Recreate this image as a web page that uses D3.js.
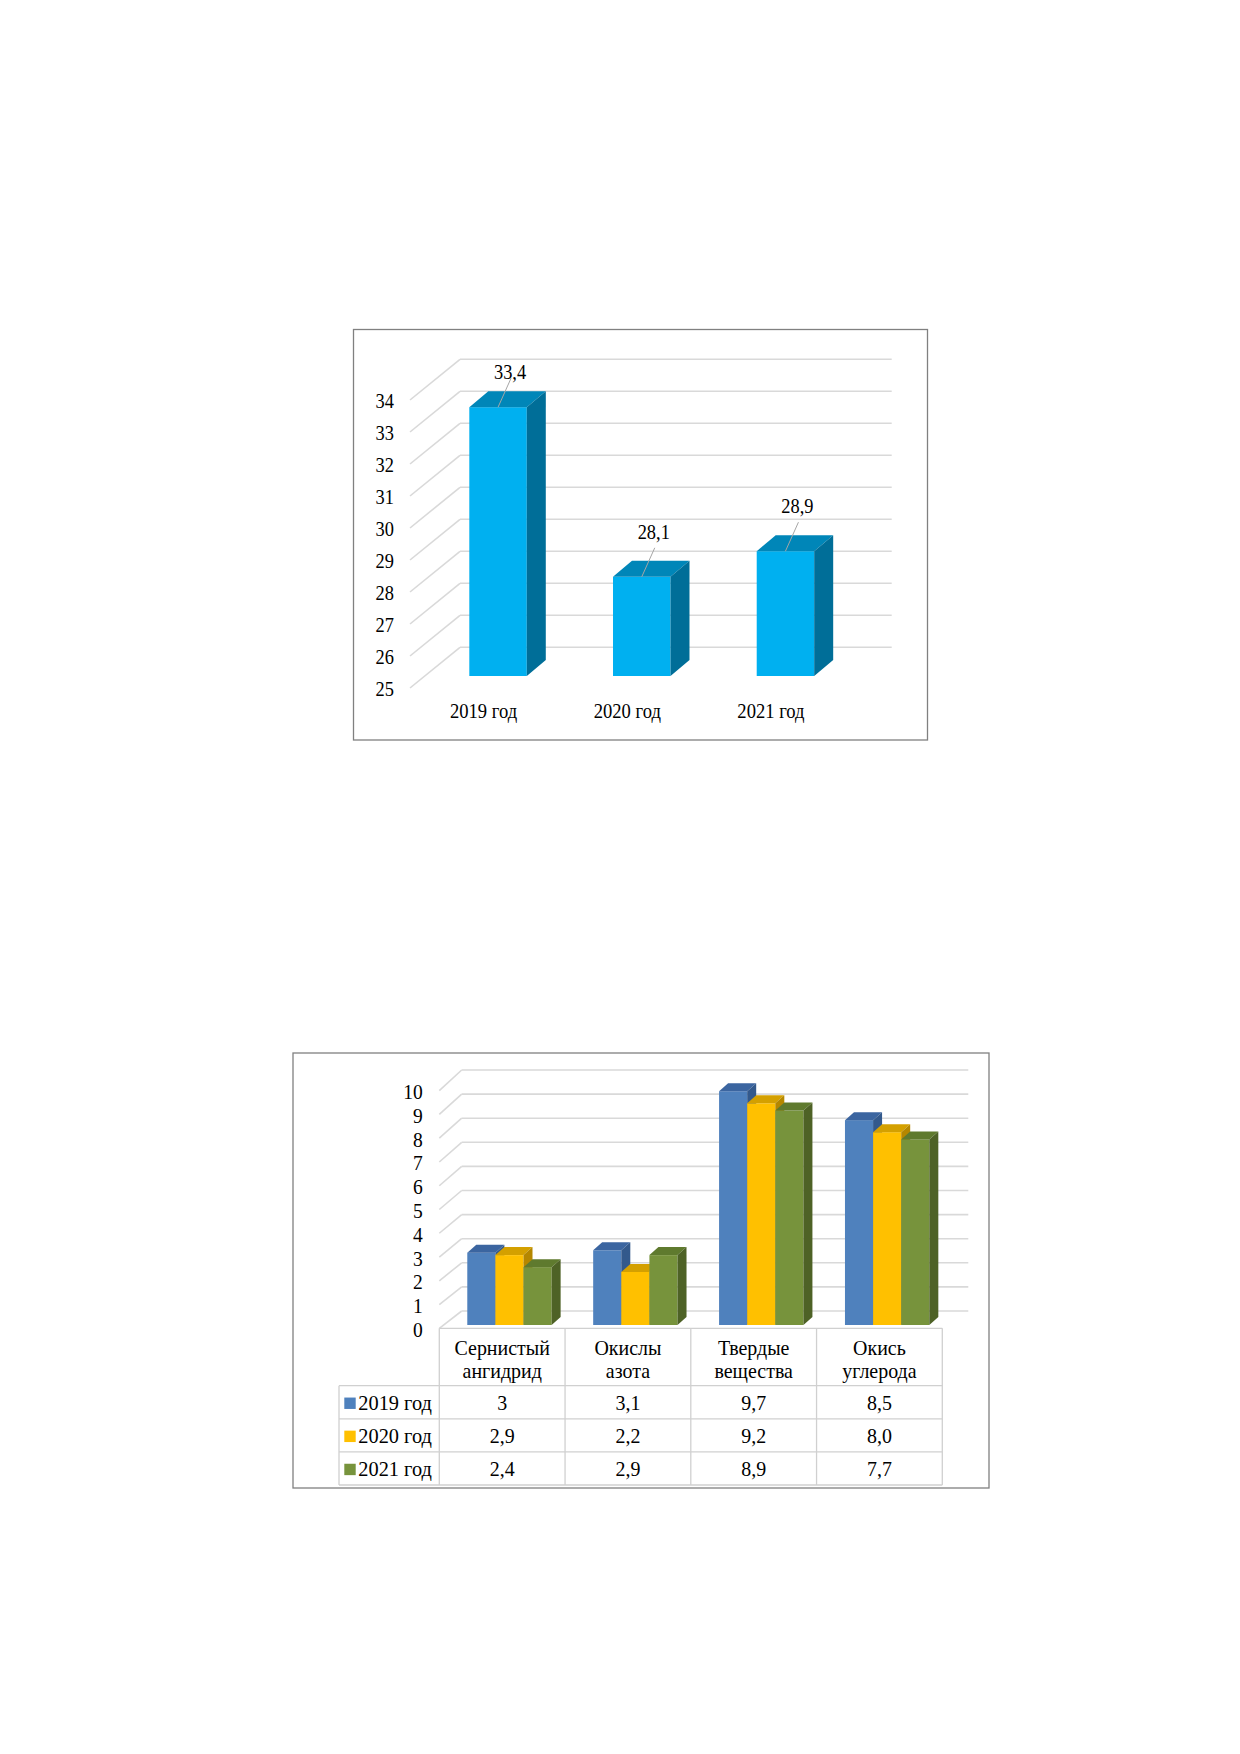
<!DOCTYPE html>
<html><head><meta charset="utf-8">
<script src="https://cdn.jsdelivr.net/npm/d3@7/dist/d3.min.js"></script>
<style>
body{margin:0;background:#fff}
svg{display:block}
text{font-family:"Liberation Serif","Times New Roman",serif;fill:#000}
</style>
</head><body>
<svg id="c" width="1240" height="1754"></svg>
<script>
// ---------- data: chart 1 ----------
const years = ["2019 год", "2020 год", "2021 год"];
const totals = [33.4, 28.1, 28.9];
const totalLabels = ["33,4", "28,1", "28,9"];
const ticks1 = [25, 26, 27, 28, 29, 30, 31, 32, 33, 34];

// ---------- data: chart 2 ----------
const pollutants = ["Сернистый ангидрид", "Окислы азота", "Твердые вещества", "Окись углерода"];
const pollutantLines = [["Сернистый", "ангидрид"], ["Окислы", "азота"], ["Твердые", "вещества"], ["Окись", "углерода"]];
const series = ["2019 год", "2020 год", "2021 год"];
const values2019 = [3, 3.1, 9.7, 8.5];
const values2020 = [2.9, 2.2, 9.2, 8.0];
const values2021 = [2.4, 2.9, 8.9, 7.7];
const text2019 = ["3", "3,1", "9,7", "8,5"];
const text2020 = ["2,9", "2,2", "9,2", "8,0"];
const text2021 = ["2,4", "2,9", "8,9", "7,7"];
const ticks2 = [0, 1, 2, 3, 4, 5, 6, 7, 8, 9, 10];

const seriesValues = [values2019, values2020, values2021];
const seriesTexts = [text2019, text2020, text2021];

// ---------- styles ----------
const GRID = "#D9D9D9";
const c1 = {front: "#00B0F0", top: "#0086B8", side: "#006E98"};
const c2front = ["#4F81BD", "#FFC000", "#77933C"];
const c2top = ["#3B65A0", "#D4A000", "#5F7A2E"];
const c2side = ["#33598C", "#B58700", "#4E6226"];

const svg = d3.select("#c");

function txt(sel, x, y, s, anchor, size, sx) {
  return sel.append("text")
    .attr("transform", `translate(${x},${y}) scale(${sx},1)`)
    .attr("text-anchor", anchor)
    .attr("font-size", size)
    .text(s);
}
function box(sel, x, yT, w, yBot, dx, dy, cols) {
  sel.append("rect").attr("x", x).attr("y", yT).attr("width", w).attr("height", Math.max(0, yBot - yT)).attr("fill", cols.front);
  sel.append("polygon").attr("points", [[x, yT], [x + dx, yT - dy], [x + w + dx, yT - dy], [x + w, yT]].join(" ")).attr("fill", cols.top);
  sel.append("polygon").attr("points", [[x + w, yT], [x + w + dx, yT - dy], [x + w + dx, yBot - dy], [x + w, yBot]].join(" ")).attr("fill", cols.side);
}

// ================= CHART 1 =================
svg.append("rect").attr("x", 353.5).attr("y", 329.5).attr("width", 574).attr("height", 410.5)
  .attr("fill", "#fff").attr("stroke", "#808080").attr("stroke-width", 1.3);
const g1 = svg.append("g");
const yF1 = d3.scaleLinear().domain([25, 34]).range([688, 400]);     // front (axis) plane
const yB1 = d3.scaleLinear().domain([25, 34]).range([647.3, 359.3]); // back wall
const yBar1 = d3.scaleLinear().domain([25, 34]).range([676, 388]);   // bar front plane
const x1 = d3.scaleBand().domain(years).range([426.2, 857.3]).paddingInner(0.6).paddingOuter(0.3);

ticks1.forEach(v => {
  g1.append("line").attr("x1", 460).attr("x2", 891.7).attr("y1", yB1(v)).attr("y2", yB1(v))
    .attr("stroke", GRID).attr("stroke-width", 1.6);
  g1.append("line").attr("x1", 410).attr("y1", yF1(v)).attr("x2", 460).attr("y2", yB1(v))
    .attr("stroke", GRID).attr("stroke-width", 1.6);
  txt(g1, 394, yF1(v) + 8, String(v), "end", 20, 0.92);
});

const labelLift = [35, 45, 45];
years.forEach((yr, i) => {
  const x = x1(yr), w = x1.bandwidth();
  const yT = yBar1(totals[i]);
  box(g1, x, yT, w, yBar1(25), 19, 16, c1);
  const cx = x + w / 2;
  g1.append("line").attr("x1", cx).attr("y1", yT).attr("x2", cx + 13).attr("y2", yT - 29)
    .attr("stroke", "#A6A6A6").attr("stroke-width", 1);
  txt(g1, cx + 12, yT - labelLift[i] + 7, totalLabels[i], "middle", 20, 0.92);
  txt(g1, cx - 14.5, 717.5, yr, "middle", 20, 0.93);
});

// ================= CHART 2 =================
svg.append("rect").attr("x", 293).attr("y", 1053).attr("width", 696).attr("height", 435)
  .attr("fill", "#fff").attr("stroke", "#808080").attr("stroke-width", 1.3);
const g2 = svg.append("g");
const yF2 = d3.scaleLinear().domain([0, 10]).range([1328.3, 1090.7]);
const yB2 = d3.scaleLinear().domain([0, 10]).range([1311, 1070]);
const yBar2 = d3.scaleLinear().domain([0, 10]).range([1325, 1084]);
const x2 = d3.scaleBand().domain(pollutants).range([442.1, 954.5]).paddingInner(0.33).paddingOuter(0.2);
const xs = d3.scaleBand().domain(series).range([0, x2.bandwidth()]);

ticks2.forEach(v => {
  g2.append("line").attr("x1", 461.7).attr("x2", 968.3).attr("y1", yB2(v)).attr("y2", yB2(v))
    .attr("stroke", GRID).attr("stroke-width", 1.6);
  g2.append("line").attr("x1", 439.3).attr("y1", yF2(v)).attr("x2", 461.7).attr("y2", yB2(v))
    .attr("stroke", GRID).attr("stroke-width", 1.6);
  txt(g2, 422.7, yF2(v) + 8.5, String(v), "end", 21, 0.93);
});

pollutants.forEach((p, j) => {
  series.forEach((s, k) => {
    const x = x2(p) + xs(s), w = xs.bandwidth();
    box(g2, x, yBar2(seriesValues[k][j]), w, yBar2(0), 9, 8,
      {front: c2front[k], top: c2top[k], side: c2side[k]});
  });
});

// data table
const TL = "#D0D0D0";
const tx = d3.scaleBand().domain(pollutants).range([439.3, 942.3]);
const ty = d3.scaleBand().domain(series).range([1385.7, 1485]);
const gt = svg.append("g");
gt.append("line").attr("x1", 439.3).attr("x2", 942.3).attr("y1", 1328.3).attr("y2", 1328.3).attr("stroke", TL).attr("stroke-width", 1.3);
pollutants.concat([null]).forEach((p, j) => {
  const x = p ? tx(p) : 942.3;
  gt.append("line").attr("x1", x).attr("x2", x).attr("y1", 1328.3).attr("y2", 1485).attr("stroke", TL).attr("stroke-width", 1.3);
});
gt.append("line").attr("x1", 339).attr("x2", 339).attr("y1", 1385.7).attr("y2", 1485).attr("stroke", TL).attr("stroke-width", 1.3);
series.concat([null]).forEach(s => {
  const y = s ? ty(s) : 1485;
  gt.append("line").attr("x1", 339).attr("x2", 942.3).attr("y1", y).attr("y2", y).attr("stroke", TL).attr("stroke-width", 1.3);
});
pollutants.forEach((p, j) => {
  const cx = tx(p) + tx.bandwidth() / 2;
  txt(gt, cx, 1355, pollutantLines[j][0], "middle", 21, 0.95);
  txt(gt, cx, 1378, pollutantLines[j][1], "middle", 21, 0.95);
});
series.forEach((s, k) => {
  const cy = ty(s) + ty.bandwidth() / 2 + 1;
  gt.append("rect").attr("x", 344.3).attr("y", cy - 5.7).attr("width", 11.4).attr("height", 11.4).attr("fill", c2front[k]);
  txt(gt, 358.3, cy + 7, s, "start", 21, 0.97);
  pollutants.forEach((p, j) => {
    txt(gt, tx(p) + tx.bandwidth() / 2, cy + 7, seriesTexts[k][j], "middle", 21, 0.95);
  });
});
</script>
</body></html>
